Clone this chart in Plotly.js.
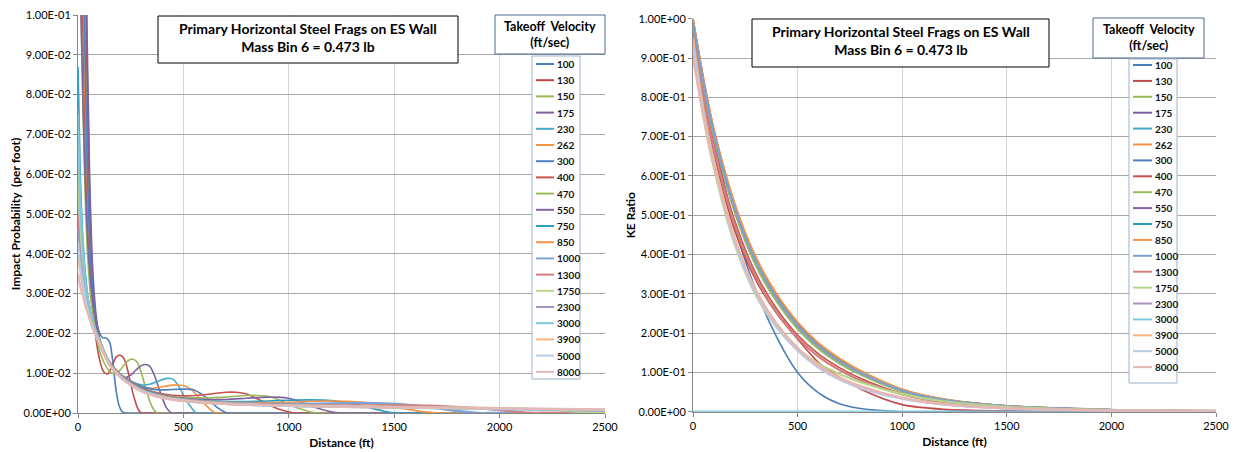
<!DOCTYPE html>
<html>
<head>
<meta charset="utf-8">
<script src="https://cdn.plot.ly/plotly-3.0.1.min.js"></script>
<style>html,body{margin:0;padding:0;background:#fff;}#chart{width:1233px;height:452px;}</style>
</head>
<body>
<div id="chart"></div>
<script>
// ---------------- DATA ----------------
const velocities = ['100','130','150','175','230','262','300','400','470','550','750','850','1000','1300','1750','2300','3000','3900','5000','8000'];
const lineColors = ['#4A7EBB','#BE4B48','#98B954','#7D60A0','#46AAC5','#F69240','#4F81BD','#C9524F','#9BBB59','#8064A2','#2C9CC4','#F79646','#7EA1D3','#D37F7D','#B9D48C','#A693C2','#7FC8DC','#F9B37E','#BACCE4','#E4B8B7'];

const chartTitle = 'Primary Horizontal Steel Frags on ES Wall<br>Mass Bin 6 = 0.473 lb';
const legendTitle = 'Takeoff  Velocity<br>(ft/sec)';
const xTitle = 'Distance (ft)';
const yTitleLeft = 'Impact Probability  (per foot)';
const yTitleRight = 'KE Ratio';

const xTickVals = [0, 500, 1000, 1500, 2000, 2500];
const xTickText = ['0', '500', '1000', '1500', '2000', '2500'];
const ipTickVals = [0, 0.01, 0.02, 0.03, 0.04, 0.05, 0.06, 0.07, 0.08, 0.09, 0.1];
const ipTickText = ['0.00E+00','1.00E-02','2.00E-02','3.00E-02','4.00E-02','5.00E-02','6.00E-02','7.00E-02','8.00E-02','9.00E-02','1.00E-01'];
const keTickVals = [0, 0.1, 0.2, 0.3, 0.4, 0.5, 0.6, 0.7, 0.8, 0.9, 1.0];
const keTickText = ['0.00E+00','1.00E-01','2.00E-01','3.00E-01','4.00E-01','5.00E-01','6.00E-01','7.00E-01','8.00E-01','9.00E-01','1.00E+00'];

// Impact probability (per foot) vs distance (ft)
const ip100d = [0,20,40,55,70,85,100,115,135,150,165,180,195,210,225,260,2500];
const ip100p = [0.8,0.35,0.1,0.055,0.033,0.024,0.0205,0.019,0.0188,0.0178,0.013,0.006,0.0018,0.0003,0,0,0];
const ip130d = [0,20,36,50,65,80,100,120,140,160,180,195,210,225,240,255,270,285,300,330,2500];
const ip130p = [0.7,0.3,0.1,0.055,0.032,0.021,0.014,0.0105,0.0098,0.0115,0.014,0.0145,0.0142,0.0128,0.0098,0.0062,0.0032,0.001,0,0,0];
const ip150d = [0,20,32,45,60,80,100,125,150,175,200,225,245,260,280,300,320,340,360,375,400,2500];
const ip150p = [0.6,0.25,0.1,0.058,0.035,0.022,0.016,0.0125,0.0105,0.0098,0.0108,0.0125,0.0134,0.0135,0.0128,0.0102,0.0065,0.003,0.0008,0,0,0];
const ip175d = [0,20,42,55,70,85,100,125,150,175,200,225,250,275,300,320,340,360,380,400,420,445,480,2500];
const ip175p = [0.5,0.3,0.1,0.06,0.036,0.025,0.019,0.0145,0.012,0.0102,0.0092,0.0089,0.0095,0.0108,0.0119,0.0122,0.0118,0.0098,0.0068,0.0038,0.0013,0,0,0];
const ip230d = [0,15,28,40,55,70,85,100,125,150,200,250,300,340,380,420,450,480,510,540,560,600,2500];
const ip230p = [0.4,0.17,0.1,0.06,0.036,0.025,0.02,0.0175,0.0145,0.0125,0.0097,0.008,0.0071,0.0072,0.008,0.0087,0.0085,0.0065,0.0035,0.0012,0,0,0];
const ip262d = [0,12,24,35,50,65,80,100,125,150,200,250,300,350,400,450,500,540,580,610,640,660,700,2500];
const ip262p = [0.3,0.15,0.1,0.065,0.04,0.028,0.022,0.018,0.0148,0.0125,0.0096,0.0078,0.0066,0.0062,0.0066,0.007,0.0069,0.0058,0.0035,0.0018,0.0004,0,0,0];
const ip300d = [0,15,30,45,60,80,100,125,150,200,250,300,350,400,450,500,550,590,630,660,690,710,750,2500];
const ip300p = [0.25,0.13,0.1,0.06,0.038,0.025,0.019,0.015,0.0128,0.0098,0.008,0.0067,0.006,0.0058,0.0059,0.006,0.0058,0.0046,0.0028,0.0014,0.0004,0,0,0];
const ip400d = [0,10,20,35,50,70,100,150,200,300,400,500,600,700,750,800,850,900,950,1000,1030,1100,2500];
const ip400p = [0.2,0.14,0.1,0.06,0.04,0.027,0.019,0.0128,0.0098,0.0064,0.0048,0.0043,0.0046,0.0052,0.0052,0.0048,0.0036,0.0022,0.001,0.0003,0,0,0];
const ip470d = [0,10,15,30,45,65,100,150,200,300,400,500,600,700,800,850,900,950,1000,1050,1100,1150,1200,2500];
const ip470p = [0.15,0.11,0.1,0.062,0.04,0.027,0.019,0.0128,0.0098,0.0063,0.0046,0.0039,0.0038,0.004,0.0044,0.0044,0.0042,0.0034,0.0022,0.0011,0.0003,0,0,0];
const ip550d = [0,10,25,40,55,75,100,150,200,300,400,500,600,700,800,900,950,1000,1050,1100,1150,1200,1250,1300,2500];
const ip550p = [0.13,0.11,0.075,0.05,0.036,0.026,0.019,0.0128,0.0097,0.0062,0.0045,0.0037,0.0034,0.0034,0.0037,0.004,0.004,0.0037,0.0029,0.0019,0.001,0.0003,0,0,0];
const ip750d = [0,10,20,35,50,70,100,150,200,300,400,500,600,700,800,900,1000,1100,1200,1300,1400,1450,1500,1550,2500];
const ip750p = [0.087,0.062,0.047,0.035,0.028,0.023,0.0185,0.0126,0.0096,0.0061,0.0044,0.0036,0.0031,0.0029,0.0029,0.003,0.0032,0.0033,0.0031,0.0023,0.0011,0.0005,0,0,0];
const ip850d = [0,10,20,35,50,70,100,150,200,300,400,500,700,900,1000,1100,1200,1300,1400,1500,1600,1700,1750,2500];
const ip850p = [0.062,0.05,0.041,0.033,0.028,0.023,0.0185,0.0125,0.0095,0.006,0.0043,0.0035,0.0027,0.0026,0.0027,0.0029,0.003,0.0029,0.0024,0.0015,0.0006,0,0,0];
const ip1000d = [0,10,20,35,50,70,100,150,200,300,400,500,700,900,1100,1300,1400,1500,1600,1700,1800,1900,1950,2500];
const ip1000p = [0.055,0.046,0.039,0.032,0.027,0.022,0.0185,0.0125,0.0094,0.0059,0.0042,0.0034,0.0026,0.0023,0.0023,0.0025,0.0025,0.0023,0.0019,0.0012,0.0005,0,0,0];
const ip1300d = [0,10,25,40,60,80,100,150,200,300,400,500,700,900,1200,1500,1700,1900,2000,2100,2150,2200,2500];
const ip1300p = [0.05,0.042,0.034,0.029,0.025,0.021,0.0185,0.0124,0.0093,0.0058,0.0041,0.0033,0.0025,0.0021,0.0019,0.0019,0.0018,0.0012,0.0007,0.0002,0,0,0];
const ip1750d = [0,10,25,40,60,80,100,150,200,300,400,500,700,1000,1300,1600,1900,2100,2300,2400,2450,2500];
const ip1750p = [0.06,0.048,0.037,0.03,0.025,0.021,0.0185,0.0124,0.0093,0.0058,0.0041,0.0032,0.0024,0.0019,0.0017,0.0015,0.0013,0.0011,0.0006,0.0002,0,0];
const ipHiD = [0,10,25,40,60,80,100,150,200,300,400,500,700,1000,1500,2000,2500];
const ip2300p = [0.046,0.039,0.033,0.028,0.024,0.0205,0.018,0.0123,0.0092,0.0057,0.004,0.0031,0.0023,0.0018,0.0014,0.001,0.0006];
const ip3000p = [0.075,0.055,0.04,0.031,0.025,0.021,0.0182,0.0123,0.0092,0.0057,0.004,0.0031,0.0023,0.0018,0.0014,0.001,0.0007];
const ip3900p = [0.04,0.036,0.031,0.027,0.023,0.02,0.0178,0.0122,0.0091,0.0056,0.0039,0.0031,0.0023,0.0018,0.0014,0.0011,0.0008];
const ip5000p = [0.043,0.037,0.032,0.027,0.023,0.02,0.0177,0.0121,0.009,0.0056,0.0039,0.0031,0.0023,0.0018,0.0015,0.0011,0.0008];
const ip8000p = [0.035,0.032,0.029,0.026,0.023,0.02,0.0176,0.012,0.009,0.0055,0.0038,0.003,0.0023,0.0019,0.0015,0.0012,0.0009];

// KE ratio vs distance (ft)
const keDist = [0,50,100,200,300,400,500,600,700,800,1000,1200,1500,2000,2500];
const ke100  = [1.0,0.84,0.70,0.47,0.31,0.19,0.10,0.048,0.02,0.008,0,0,0,0,0];
const ke130  = [0.92,0.78,0.655,0.46,0.335,0.25,0.185,0.125,0.088,0.058,0.018,0.006,0.002,0.0005,0];
const ke150  = [0.986,0.832,0.702,0.51,0.376,0.283,0.213,0.162,0.125,0.096,0.052,0.029,0.0136,0.0046,0.0019];
const ke175  = [1.0,0.846,0.716,0.525,0.39,0.296,0.224,0.172,0.133,0.103,0.056,0.031,0.015,0.005,0.002];
const ke230  = [0.994,0.843,0.713,0.522,0.387,0.293,0.222,0.17,0.132,0.101,0.055,0.031,0.0144,0.0048,0.002];
const ke262  = [1.0,0.85,0.72,0.53,0.395,0.30,0.228,0.175,0.136,0.105,0.057,0.032,0.015,0.005,0.002];
const ke300  = [0.993,0.841,0.711,0.52,0.386,0.292,0.221,0.169,0.131,0.1,0.055,0.031,0.0143,0.0048,0.002];
const ke400  = [0.968,0.81,0.68,0.485,0.352,0.262,0.195,0.147,0.112,0.085,0.046,0.026,0.0119,0.0041,0.0018];
const ke470  = [0.98,0.828,0.698,0.505,0.371,0.279,0.21,0.159,0.122,0.094,0.051,0.029,0.0133,0.0045,0.0019];
const ke550  = [0.995,0.844,0.714,0.523,0.388,0.294,0.223,0.171,0.132,0.102,0.055,0.031,0.0145,0.0049,0.002];
const ke750  = [0.992,0.839,0.709,0.518,0.384,0.29,0.219,0.167,0.13,0.1,0.054,0.030,0.0142,0.0048,0.0019];
const ke850  = [1.0,0.848,0.718,0.528,0.393,0.298,0.227,0.174,0.135,0.104,0.057,0.032,0.015,0.005,0.002];
const ke1000 = [0.99,0.837,0.707,0.516,0.382,0.288,0.218,0.166,0.128,0.099,0.054,0.030,0.014,0.0047,0.0019];
const ke1300 = [0.96,0.8,0.67,0.475,0.343,0.253,0.188,0.14,0.106,0.08,0.044,0.024,0.0112,0.0039,0.0017];
const ke1750 = [0.92,0.75,0.62,0.425,0.297,0.215,0.16,0.122,0.096,0.075,0.045,0.026,0.012,0.004,0.0018];
const ke2300 = [0.92,0.76,0.632,0.435,0.305,0.219,0.159,0.115,0.085,0.062,0.034,0.019,0.0084,0.003,0.0015];
const ke3000 = [0,0,0,0,0,0,0,0,0,0,0,0,0,0,0];
const ke3900 = [0.95,0.77,0.64,0.44,0.31,0.224,0.162,0.118,0.087,0.065,0.035,0.019,0.0087,0.0032,0.0015];
const ke5000 = [0.93,0.76,0.63,0.43,0.30,0.215,0.155,0.112,0.082,0.06,0.033,0.018,0.008,0.003,0.0015];
const ke8000 = [0.9,0.75,0.628,0.438,0.308,0.222,0.161,0.117,0.086,0.064,0.035,0.019,0.0086,0.0031,0.0015];

// ---------------- BUILD ----------------
const ipSeries = [
  [ip100d, ip100p],[ip130d, ip130p],[ip150d, ip150p],[ip175d, ip175p],[ip230d, ip230p],
  [ip262d, ip262p],[ip300d, ip300p],[ip400d, ip400p],[ip470d, ip470p],[ip550d, ip550p],
  [ip750d, ip750p],[ip850d, ip850p],[ip1000d, ip1000p],[ip1300d, ip1300p],[ip1750d, ip1750p],
  [ipHiD, ip2300p],[ipHiD, ip3000p],[ipHiD, ip3900p],[ipHiD, ip5000p],[ipHiD, ip8000p]
];
const keSeries = [ke100,ke130,ke150,ke175,ke230,ke262,ke300,ke400,ke470,ke550,ke750,ke850,ke1000,ke1300,ke1750,ke2300,ke3000,ke3900,ke5000,ke8000];

const W = 1233, H = 452;
const px = v => v / W;
const py = v => 1 - v / H;
const FONT = 'Lato, "Open Sans", "DejaVu Sans", sans-serif';

const traces = [];
ipSeries.forEach((s, i) => {
  traces.push({
    type: 'scatter', mode: 'lines', x: s[0], y: s[1], name: velocities[i],
    xaxis: 'x', yaxis: 'y', showlegend: false, hoverinfo: 'skip',
    line: { color: lineColors[i], width: i < 12 ? 1.6 : 2.3, shape: 'spline', smoothing: 0.8 }
  });
});
keSeries.forEach((s, i) => {
  traces.push({
    type: 'scatter', mode: 'lines', x: keDist, y: s, name: velocities[i],
    xaxis: 'x2', yaxis: 'y2', showlegend: false, hoverinfo: 'skip',
    line: { color: lineColors[i], width: i < 12 ? 1.6 : 2.3, shape: 'spline', smoothing: 0.8 }
  });
});

const shapes = [];
const annotations = [];

function addBoxes(cfg) {
  // main title box
  shapes.push({ type: 'rect', xref: 'paper', yref: 'paper', layer: 'above',
    x0: px(cfg.tb[0]), x1: px(cfg.tb[1]), y0: py(cfg.tb[3]), y1: py(cfg.tb[2]),
    fillcolor: '#ffffff', line: { color: '#000000', width: 1 } });
  annotations.push({ xref: 'paper', yref: 'paper', x: px((cfg.tb[0] + cfg.tb[1]) / 2), y: py(cfg.tty),
    xanchor: 'center', yanchor: 'middle', showarrow: false, align: 'center', text: '<b>' + chartTitle.replace('<br>', '</b><br><b>') + '</b>',
    font: { family: FONT, size: 14, color: '#000' } });
  // legend title box
  shapes.push({ type: 'rect', xref: 'paper', yref: 'paper', layer: 'above',
    x0: px(cfg.lt[0]), x1: px(cfg.lt[1]), y0: py(cfg.lt[3]), y1: py(cfg.lt[2]),
    fillcolor: '#ffffff', line: { color: '#4F6A94', width: 1 } });
  annotations.push({ xref: 'paper', yref: 'paper', x: px((cfg.lt[0] + cfg.lt[1]) / 2), y: py(cfg.lty),
    xanchor: 'center', yanchor: 'middle', showarrow: false, align: 'center', text: '<b>' + legendTitle.replace('<br>', '</b><br><b>') + '</b>',
    font: { family: FONT, size: 12.5, color: '#000' } });
  // legend entries box
  shapes.push({ type: 'rect', xref: 'paper', yref: 'paper', layer: 'above',
    x0: px(cfg.le[0]), x1: px(cfg.le[1]), y0: py(cfg.le[3]), y1: py(cfg.le[2]),
    fillcolor: '#ffffff', line: { color: '#9DB3D1', width: 1 } });
  velocities.forEach((v, i) => {
    const yy = cfg.ey0 + cfg.edy * i;
    shapes.push({ type: 'line', xref: 'paper', yref: 'paper', layer: 'above',
      x0: px(cfg.lx[0]), x1: px(cfg.lx[1]), y0: py(yy), y1: py(yy),
      line: { color: lineColors[i], width: 2 } });
    annotations.push({ xref: 'paper', yref: 'paper', x: px(cfg.lx[1] + 0.5), y: py(yy),
      xanchor: 'left', yanchor: 'middle', showarrow: false, text: '<b>' + v + '</b>',
      font: { family: FONT, size: 10, color: '#111' } });
  });
}

addBoxes({ tb: [158, 458, 16, 63], tty: 37.5, lt: [495, 605, 15, 54], lty: 34.5,
  le: [532, 580, 56, 379], ey0: 64, edy: 16.2, lx: [536, 554] });
addBoxes({ tb: [752, 1049, 19, 67], tty: 40.5, lt: [1093, 1204, 18, 58], lty: 37.5,
  le: [1129, 1177, 59, 383], ey0: 65, edy: 15.9, lx: [1133, 1152] });

const tickFont = { family: FONT, size: 11, color: '#000' };
const titleFont = { family: FONT, size: 12, color: '#000' };

function xAxis(domain, anchor) {
  return {
    domain: domain, anchor: anchor, range: [0, 2500], tickvals: xTickVals, ticktext: xTickText,
    showgrid: true, gridcolor: '#D4D4D4', gridwidth: 1, zeroline: false,
    showline: true, linecolor: '#868686', linewidth: 1, ticks: 'outside', ticklen: 4, tickcolor: '#868686',
    tickfont: tickFont, automargin: false,
    title: { text: '<b>' + xTitle + '</b>', font: titleFont, standoff: 6 }
  };
}
function yAxis(domain, anchor, range, vals, txt, title) {
  return {
    domain: domain, anchor: anchor, range: range, tickvals: vals, ticktext: txt,
    showgrid: true, gridcolor: '#A8A8A8', gridwidth: 1, zeroline: false,
    showline: true, linecolor: '#868686', linewidth: 1, ticks: 'outside', ticklen: 4, tickcolor: '#868686',
    tickfont: tickFont, automargin: false,
    title: { text: '<b>' + title + '</b>', font: titleFont, standoff: 0 }
  };
}

const layout = {
  width: W, height: H, margin: { l: 0, r: 0, t: 0, b: 0 },
  paper_bgcolor: '#ffffff', plot_bgcolor: '#ffffff', showlegend: false,
  xaxis: xAxis([px(78), px(605)], 'y'),
  yaxis: yAxis([1 - 413 / H, 1 - 15 / H], 'x', [0, 0.1], ipTickVals, ipTickText, yTitleLeft),
  xaxis2: xAxis([px(693), px(1216)], 'y2'),
  yaxis2: yAxis([1 - 411.7 / H, 1 - 18.7 / H], 'x2', [0, 1.0], keTickVals, keTickText, yTitleRight),
  shapes: shapes, annotations: annotations
};

Plotly.newPlot('chart', traces, layout, { staticPlot: true, displayModeBar: false });
</script>
</body>
</html>
